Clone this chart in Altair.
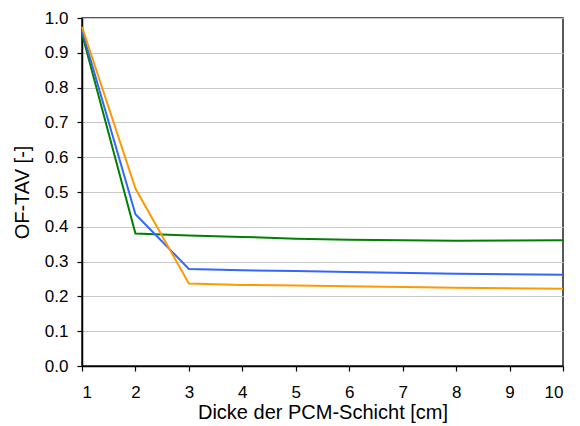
import altair as alt
import pandas as pd

x_vals = [1, 2, 3, 4, 5, 6, 8, 10]
green = [0.955, 0.381, 0.375, 0.371, 0.366, 0.363, 0.360, 0.361]
blue = [0.965, 0.436, 0.279, 0.275, 0.273, 0.270, 0.265, 0.262]
orange = [0.975, 0.510, 0.237, 0.233, 0.231, 0.229, 0.225, 0.222]

series = ["green", "blue", "orange"]
colors = ["#008000", "#3366ff", "#ff9900"]

rows = []
for name, vals in zip(series, [green, blue, orange]):
    for xv, yv in zip(x_vals, vals):
        rows.append({"x": xv, "y": yv, "s": name})
df = pd.DataFrame(rows)

font = "Liberation Sans"

chart = alt.Chart(df).mark_line(strokeWidth=2).encode(
    x=alt.X("x:Q", scale=alt.Scale(domain=[1, 10], nice=False, zero=False),
            axis=alt.Axis(title="Dicke der PCM-Schicht [cm]", values=list(range(1, 11)),
                          grid=False, tickSize=5, labelPadding=13, titlePadding=2,
                          format="d")),
    y=alt.Y("y:Q", scale=alt.Scale(domain=[0, 1], nice=False),
            axis=alt.Axis(title="OF-TAV [-]", values=[i / 10 for i in range(11)],
                          format=".1f", tickSize=5, labelPadding=9, titlePadding=12)),
    color=alt.Color("s:N", scale=alt.Scale(domain=series, range=colors), legend=None),
).properties(
    width=481, height=348,
    autosize=alt.AutoSizeParams(type="none"),
    padding={"left": 74, "top": 10, "right": 9, "bottom": 60},
).configure_axis(
    labelFont=font, titleFont=font, labelFontSize=17, titleFontSize=20,
    labelColor="#000", titleColor="#000", titleFontWeight="normal",
    domainColor="#000", domainWidth=1.5, tickColor="#000", tickWidth=1.2,
    gridColor="#c8c8c8", gridWidth=1.2,
).configure_view(stroke="#222", strokeWidth=1.5)

chart.save("out.html", embed_options={"renderer": "svg", "actions": False})
